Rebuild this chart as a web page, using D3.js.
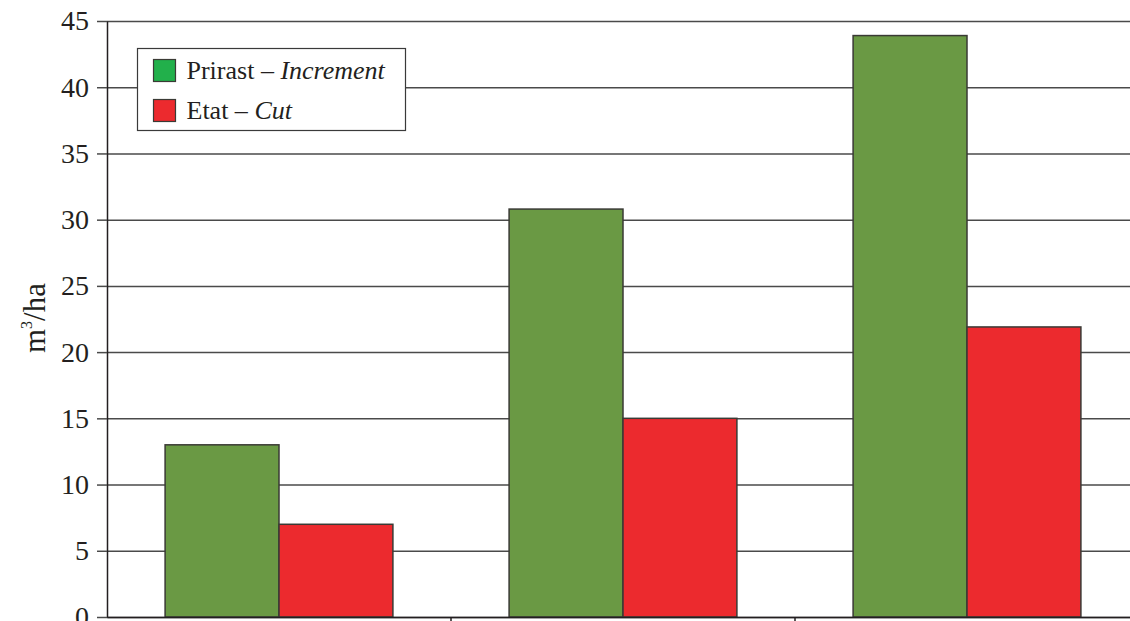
<!DOCTYPE html>
<html>
<head>
<meta charset="utf-8">
<script src="https://cdn.jsdelivr.net/npm/d3@7"></script>
<style>
  html, body { margin: 0; padding: 0; background: #fff; }
  svg { display: block; }
  text { font-family: "Liberation Serif", "Times New Roman", "DejaVu Serif", serif; fill: #231f20; }
</style>
</head>
<body>
<svg id="chart" width="1130" height="621"></svg>
<script>
// Stand volume increment vs. cut, three stand groups
const categories = ["A", "B", "C"];
const seriesNames = ["Prirast", "Etat"];
const seriesItalic = ["Increment", "Cut"];
const increment = [13, 30.8, 43.9];
const cut = [7, 15, 21.9];
const yTicks = [0, 5, 10, 15, 20, 25, 30, 35, 40, 45];

const svg = d3.select("#chart");
const plotLeft = 107, plotRight = 1139, plotTop = 21, plotBottom = 617;
const serif = '"Liberation Serif", "Times New Roman", serif';

const x = d3.scaleBand().domain(categories).range([plotLeft, plotRight]).paddingInner(0).paddingOuter(0);
const inner = d3.scaleBand().domain(seriesNames).range([0, x.bandwidth()]).paddingOuter(0.51).paddingInner(0);
const y = d3.scaleLinear().domain([0, 45]).range([plotBottom, plotTop]);

const barColors = ["#6a9944", "#ec2a2e"];
const legendColors = ["#22b04b", "#ec2a2e"];

// horizontal gridlines
svg.append("g")
  .attr("transform", `translate(${plotLeft},0)`)
  .call(d3.axisLeft(y).tickValues(yTicks).tickSize(-(plotRight - plotLeft)).tickSizeOuter(0).tickFormat(""))
  .call(g => g.select(".domain").remove())
  .call(g => g.selectAll(".tick line").attr("stroke", "#4a4a4a").attr("stroke-width", 1.5));

// y tick marks and labels
const yAxis = svg.append("g")
  .attr("transform", `translate(${plotLeft},0)`)
  .call(d3.axisLeft(y).tickValues(yTicks).tickSize(10).tickPadding(8).tickSizeOuter(0));
yAxis.select(".domain").attr("stroke", "#231f20").attr("stroke-width", 1.5);
yAxis.selectAll(".tick line").attr("stroke", "#4a4a4a").attr("stroke-width", 1.5);
yAxis.selectAll(".tick text")
  .style("font-family", serif)
  .style("font-size", "28px")
  .attr("fill", "#231f20");

// bars
const data = categories.map((c, i) => ({ cat: c, values: [increment[i], cut[i]] }));
const groups = svg.append("g").selectAll("g")
  .data(data).join("g")
  .attr("transform", d => `translate(${x(d.cat)},0)`);
groups.selectAll("rect")
  .data(d => d.values.map((v, j) => ({ key: seriesNames[j], v, j })))
  .join("rect")
  .attr("x", d => inner(d.key))
  .attr("width", inner.bandwidth())
  .attr("y", d => y(d.v))
  .attr("height", d => y(0) - y(d.v))
  .attr("fill", d => barColors[d.j])
  .attr("stroke", "#3a3a35")
  .attr("stroke-width", 1.5);

// x axis with category separators
const xAxis = svg.append("g")
  .attr("transform", `translate(0,${plotBottom})`)
  .call(d3.axisBottom(x).tickValues([]).tickSizeOuter(0));
xAxis.select(".domain").attr("stroke", "#231f20").attr("stroke-width", 1.5);
svg.append("g").selectAll("line")
  .data(categories.slice(1))
  .join("line")
  .attr("x1", d => x(d)).attr("x2", d => x(d))
  .attr("y1", plotBottom).attr("y2", plotBottom + 10)
  .attr("stroke", "#231f20").attr("stroke-width", 1.5);

// y axis title
svg.append("text")
  .attr("transform", "translate(45,318) rotate(-90)")
  .attr("text-anchor", "middle")
  .style("font-family", serif)
  .style("font-size", "31px")
  .html('m<tspan dy="-13" font-size="16">3</tspan><tspan dy="13">/ha</tspan>');

// legend
const lg = svg.append("g").attr("transform", "translate(137.5,48.5)");
lg.append("rect").attr("width", 268).attr("height", 82)
  .attr("fill", "#fff").attr("stroke", "#3a3a3a").attr("stroke-width", 1.2);
seriesNames.forEach((name, i) => {
  const row = lg.append("g").attr("transform", `translate(16,${11 + i * 40})`);
  row.append("rect").attr("width", 22).attr("height", 22)
    .attr("fill", legendColors[i]).attr("stroke", "#3a3a35").attr("stroke-width", 1.2);
  const t = row.append("text").attr("x", 33).attr("y", 19)
    .style("font-family", serif).style("font-size", "26px");
  t.append("tspan").text(name + " – ");
  t.append("tspan").attr("font-style", "italic").text(seriesItalic[i]);
});
</script>
</body>
</html>
